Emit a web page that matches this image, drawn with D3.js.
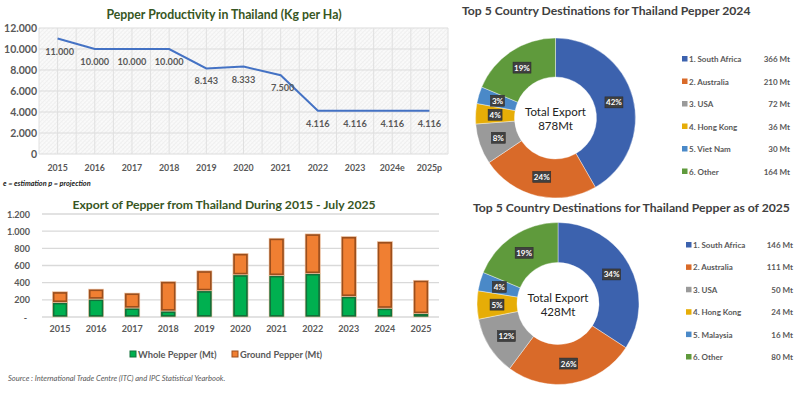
<!DOCTYPE html>
<html>
<head>
<meta charset="utf-8">
<script src="https://cdn.jsdelivr.net/npm/d3@7"></script>
<style>
  body { margin: 0; background: #fff; }
  svg { display: block; font-family: Lato, 'Open Sans', sans-serif; }
</style>
</head>
<body>
<div id="chart"></div>
<script>
// productivity (kg per ha)
const prodYears = ['2015', '2016', '2017', '2018', '2019', '2020', '2021', '2022', '2023', '2024e', '2025p']
const prodValues = [11000, 10000, 10000, 10000, 8143, 8333, 7500, 4116, 4116, 4116, 4116]
const prodTicks = [0, 2000, 4000, 6000, 8000, 10000, 12000]

// export volumes (Mt)
const expYears = ['2015', '2016', '2017', '2018', '2019', '2020', '2021', '2022', '2023', '2024', '2025']
const wholePepper = [170, 209, 105, 70, 306, 492, 484, 507, 240, 103, 40]
const groundPepper = [124, 116, 174, 344, 232, 248, 434, 461, 697, 775, 388]
const expTicks = [0, 200, 400, 600, 800, 1000, 1200]

// destinations
const dest2024Names = ['1. South Africa', '2. Australia', '3. USA', '4. Hong Kong', '5. Viet Nam', '6. Other']
const dest2024Values = [366, 210, 72, 36, 30, 164]
const dest2024Pct = ['42%', '24%', '8%', '4%', '3%', '19%']
const dest2025Names = ['1. South Africa', '2. Australia', '3. USA', '4. Hong Kong', '5. Malaysia', '6. Other']
const dest2025Values = [146, 111, 50, 24, 16, 80]
const dest2025Pct = ['34%', '26%', '12%', '5%', '4%', '19%']
const sliceColors = ['#3c62ae', '#d96a29', '#9a9a9a', '#e6ad07', '#4a89c8', '#5f9a3c']

const W = 799, H = 398
const fmt = (v) => v === 0 ? '0' : d3.format(',')(v).replace(/,/g, '.')
const axisGray = '#595959'
const titleGreen = '#375623'

const svg = d3.select('#chart').append('svg').attr('width', W).attr('height', H)
const defs = svg.append('defs')
const hatch = defs.append('pattern')
  .attr('id', 'hatch').attr('patternUnits', 'userSpaceOnUse')
  .attr('width', 3).attr('height', 3)
  .attr('patternTransform', 'rotate(45)')
hatch.append('rect').attr('width', 3).attr('height', 3).attr('fill', '#fafafa')
hatch.append('line').attr('x1', 0).attr('y1', 0).attr('x2', 0).attr('y2', 3)
  .attr('stroke', '#e4e4e4').attr('stroke-width', 1)
hatch.append('line').attr('x1', 0).attr('y1', 0).attr('x2', 3).attr('y2', 0)
  .attr('stroke', '#ececec').attr('stroke-width', 0.7)

// ---------- line chart ----------
{
  const left = 39, right = 448, top = 28, bottom = 154
  const x = d3.scaleBand().domain(prodYears).range([left, right])
  const y = d3.scaleLinear().domain([0, 12000]).range([bottom, top])
  const g = svg.append('g')

  g.append('text').attr('x', 224).attr('y', 19).attr('text-anchor', 'middle')
    .attr('fill', titleGreen).attr('font-size', 12.3).attr('font-weight', 700)
    .text('Pepper Productivity in Thailand (Kg per Ha)')

  g.append('rect').attr('x', left).attr('y', top).attr('width', right - left).attr('height', bottom - top)
    .attr('fill', 'url(#hatch)')

  g.selectAll('.hgrid').data(prodTicks).join('line')
    .attr('x1', left).attr('x2', right).attr('y1', (d) => y(d)).attr('y2', (d) => y(d))
    .attr('stroke', '#dcdcdc').attr('stroke-width', 1.2)
  // vertical gridlines at every half category
  const vlines = d3.range(prodYears.length * 2 + 1).map((i) => left + i * x.step() / 2)
  g.selectAll('.vgrid').data(vlines).join('line')
    .attr('x1', (d) => d).attr('x2', (d) => d)
    .attr('y1', top).attr('y2', bottom)
    .attr('stroke', '#e0e0e0').attr('stroke-width', 1)

  g.selectAll('.ytick').data(prodTicks).join('text')
    .attr('x', 37).attr('y', (d) => y(d) + 4).attr('text-anchor', 'end')
    .attr('fill', axisGray).attr('font-size', 10.5).attr('font-weight', 700)
    .text(fmt)

  g.selectAll('.xtick').data(prodYears).join('text')
    .attr('x', (d) => x(d) + x.bandwidth() / 2).attr('y', 171).attr('text-anchor', 'middle')
    .attr('fill', axisGray).attr('font-size', 8.8).attr('font-weight', 700)
    .text((d) => d)

  const line = d3.line().x((d, i) => x(prodYears[i]) + x.bandwidth() / 2).y((d) => y(d))
  g.append('path').datum(prodValues).attr('d', line)
    .attr('fill', 'none').attr('stroke', '#4472c4').attr('stroke-width', 2)

  g.selectAll('.lbl').data(prodValues).join('text')
    .attr('x', (d, i) => x(prodYears[i]) + x.bandwidth() / 2 + (i === 0 ? 2 : i === 6 ? 2 : 0))
    .attr('y', (d) => y(d) + 16).attr('text-anchor', 'middle')
    .attr('fill', axisGray).attr('font-size', 9.2).attr('font-weight', 700)
    .text(fmt)

  g.append('text').attr('x', 3).attr('y', 186)
    .attr('fill', '#222').attr('font-size', 7.3).attr('font-weight', 700).attr('font-style', 'italic')
    .text('e = estimation p = projection')
}

// ---------- stacked bar chart ----------
{
  const left = 42, right = 439, top = 214, bottom = 317
  const x = d3.scaleBand().domain(expYears).range([left, right]).paddingInner(0.58).paddingOuter(0.29)
  const y = d3.scaleLinear().domain([0, 1200]).range([bottom, top])
  const g = svg.append('g')

  g.append('text').attr('x', 224).attr('y', 209).attr('text-anchor', 'middle')
    .attr('fill', titleGreen).attr('font-size', 12.2).attr('font-weight', 700)
    .text('Export of Pepper from Thailand During 2015 - July 2025')

  g.selectAll('.hgrid').data(expTicks).join('line')
    .attr('x1', left).attr('x2', right).attr('y1', (d) => y(d)).attr('y2', (d) => y(d))
    .attr('stroke', '#d9d9d9').attr('stroke-width', 1.3)

  g.selectAll('.ytick').data(expTicks).join('text')
    .attr('x', (d) => d === 0 ? 27 : 30).attr('y', (d) => y(d) + 3.5).attr('text-anchor', 'end')
    .attr('fill', axisGray).attr('font-size', 9).attr('font-weight', 700)
    .text((d) => d === 0 ? '-' : fmt(d))

  g.selectAll('.xtick').data(expYears).join('text')
    .attr('x', (d) => x(d) + x.bandwidth() / 2).attr('y', 332).attr('text-anchor', 'middle')
    .attr('fill', axisGray).attr('font-size', 9).attr('font-weight', 700)
    .text((d) => d)

  const stack = d3.stack().keys(['whole', 'ground'])
  const rows = expYears.map((yr, i) => ({ year: yr, whole: wholePepper[i], ground: groundPepper[i] }))
  const series = stack(rows)
  const fills = { whole: '#00b050', ground: '#f07f32' }
  const edges = { whole: '#12703a', ground: '#9c4f1d' }

  series.forEach((s) => {
    const sg = g.append('g')
    sg.selectAll('rect.outer').data(s).join('rect')
      .attr('x', (d) => x(d.data.year)).attr('y', (d) => y(d[1]))
      .attr('width', x.bandwidth()).attr('height', (d) => y(d[0]) - y(d[1]))
      .attr('fill', edges[s.key]).attr('stroke', '#f4c9a8').attr('stroke-width', 0.6)
    sg.selectAll('rect.inner').data(s).join('rect')
      .attr('x', (d) => x(d.data.year) + 2).attr('y', (d) => y(d[1]) + 2)
      .attr('width', x.bandwidth() - 4).attr('height', (d) => Math.max(0, y(d[0]) - y(d[1]) - 4))
      .attr('fill', fills[s.key])
  })

  const legend = [
    { label: 'Whole Pepper (Mt)', key: 'whole', x: 130 },
    { label: 'Ground Pepper (Mt)', key: 'ground', x: 232 }
  ]
  legend.forEach((l) => {
    g.append('rect').attr('x', l.x).attr('y', 351).attr('width', 6).attr('height', 6)
      .attr('fill', fills[l.key]).attr('stroke', edges[l.key]).attr('stroke-width', 1)
    g.append('text').attr('x', l.x + 8).attr('y', 357.5)
      .attr('fill', axisGray).attr('font-size', 9.3).attr('font-weight', 700)
      .text(l.label)
  })

  g.append('text').attr('x', 8).attr('y', 381)
    .attr('fill', axisGray).attr('font-size', 7.6).attr('font-style', 'italic')
    .text('Source : International Trade Centre (ITC) and IPC Statistical Yearbook.')
}

// ---------- donuts ----------
function donut(cfg) {
  const g = svg.append('g')
  g.append('text').attr('x', cfg.titleX).attr('y', cfg.titleY)
    .attr('fill', '#404040').attr('font-size', 12.2).attr('font-weight', 700)
    .text(cfg.title)

  const pie = d3.pie().sort(null).value((d) => d)
  const arcs = pie(cfg.values)
  const arc = d3.arc().innerRadius(cfg.ri).outerRadius(cfg.ro)
  const mid = d3.arc().innerRadius((cfg.ri + cfg.ro) / 2).outerRadius((cfg.ri + cfg.ro) / 2)
  const c = g.append('g').attr('transform', `translate(${cfg.cx},${cfg.cy})`)

  c.selectAll('path').data(arcs).join('path')
    .attr('d', arc).attr('fill', (d, i) => sliceColors[i])
    .attr('stroke', '#fff').attr('stroke-width', 0.4)

  arcs.forEach((a, i) => {
    const [lx, ly] = mid.centroid(a)
    const w = cfg.pct[i].length > 2 ? 18 : 14
    c.append('rect').attr('x', lx - w / 2).attr('y', ly - 5.5).attr('width', w).attr('height', 11)
      .attr('fill', '#404040').attr('stroke', '#2a2a2a').attr('stroke-width', 0.5)
    c.append('text').attr('x', lx).attr('y', ly + 3).attr('text-anchor', 'middle')
      .attr('fill', '#fff').attr('font-size', 8).attr('font-weight', 700)
      .text(cfg.pct[i])
  })

  c.append('text').attr('x', 0).attr('y', -2).attr('text-anchor', 'middle')
    .attr('fill', '#222').attr('font-size', 11.5).text('Total Export')
  c.append('text').attr('x', 0).attr('y', 12).attr('text-anchor', 'middle')
    .attr('fill', '#222').attr('font-size', 11.5).text(`${cfg.total}Mt`)

  cfg.names.forEach((n, i) => {
    const ry = cfg.legendY + i * cfg.legendStep
    g.append('rect').attr('x', cfg.legendX).attr('y', ry - 6).attr('width', 5.5).attr('height', 5.5)
      .attr('fill', sliceColors[i])
    g.append('text').attr('x', cfg.legendX + 7).attr('y', ry)
      .attr('fill', axisGray).attr('font-size', 8).attr('font-weight', 700)
      .text(n)
    g.append('text').attr('x', cfg.valueX).attr('y', ry).attr('text-anchor', 'end')
      .attr('fill', axisGray).attr('font-size', 8).attr('font-weight', 700)
      .text(`${cfg.values[i]} Mt`)
  })
}

donut({
  title: 'Top 5 Country Destinations for Thailand Pepper 2024', titleX: 462, titleY: 15,
  values: dest2024Values, names: dest2024Names, pct: dest2024Pct, total: 878,
  cx: 555.5, cy: 118, ri: 41, ro: 80,
  legendX: 682, legendY: 62, legendStep: 22.5, valueX: 790
})
donut({
  title: 'Top 5 Country Destinations for Thailand Pepper as of 2025', titleX: 473, titleY: 212,
  values: dest2025Values, names: dest2025Names, pct: dest2025Pct, total: 428,
  cx: 558, cy: 303.5, ri: 41, ro: 81,
  legendX: 686, legendY: 248, legendStep: 22.4, valueX: 793
})
</script>
</body>
</html>
